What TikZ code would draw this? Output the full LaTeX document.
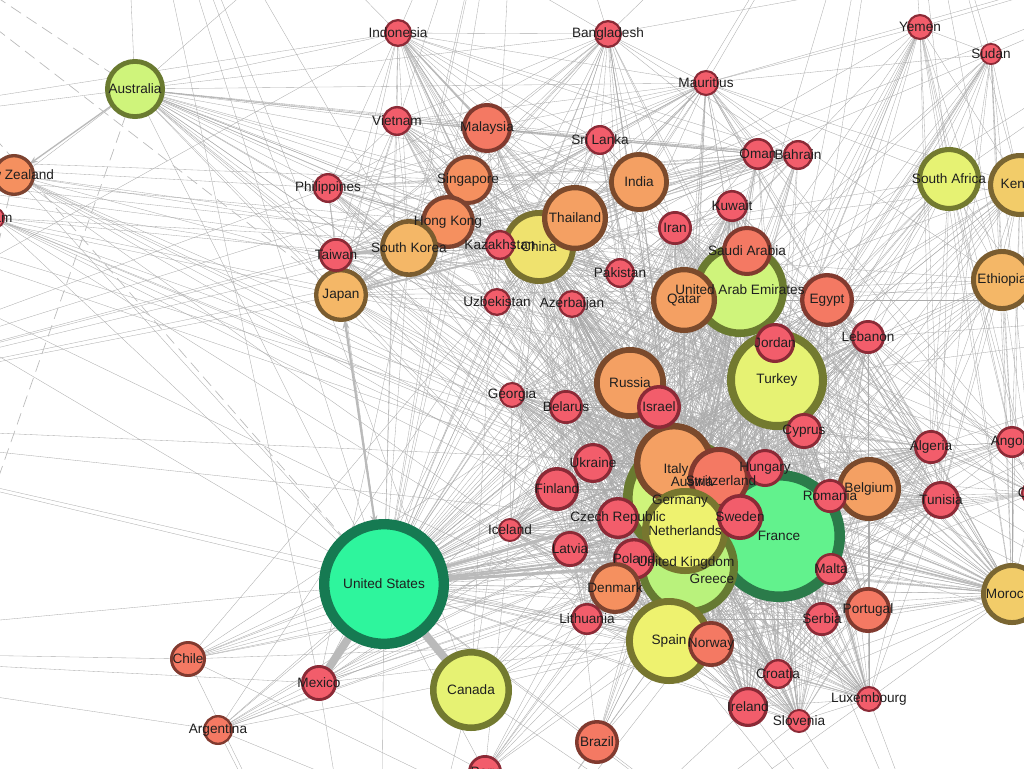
\documentclass[tikz,border=0pt]{standalone}
\usepackage{fontspec}
\setmainfont{Liberation Sans}
\usetikzlibrary{arrows.meta}

\pgfdeclarelayer{edges}
\pgfsetlayers{edges,main}

\definecolor{cRedF}{HTML}{F25D6B}\definecolor{cRedD}{HTML}{8B2A36}
\definecolor{cSalF}{HTML}{F47963}\definecolor{cSalD}{HTML}{813A2F}
\definecolor{cOraF}{HTML}{F4A063}\definecolor{cOraD}{HTML}{7B4A2C}
\definecolor{cOrsF}{HTML}{F5905F}\definecolor{cOrsD}{HTML}{7D4330}
\definecolor{cLorF}{HTML}{F4B767}\definecolor{cLorD}{HTML}{7A5C2F}
\definecolor{cGolF}{HTML}{F2CC69}\definecolor{cGolD}{HTML}{7A6632}
\definecolor{cYelF}{HTML}{EEF26F}\definecolor{cYelD}{HTML}{77762F}
\definecolor{cChnF}{HTML}{EFE26E}\definecolor{cChnD}{HTML}{787030}
\definecolor{cTurF}{HTML}{E6F273}\definecolor{cTurD}{HTML}{737A30}
\definecolor{cLgrF}{HTML}{CFF47B}\definecolor{cLgrD}{HTML}{6A7A30}
\definecolor{cGreF}{HTML}{B9F27C}\definecolor{cGreD}{HTML}{667A32}
\definecolor{cGrnF}{HTML}{62F28D}\definecolor{cGrnD}{HTML}{2B7B4A}
\definecolor{cTeaF}{HTML}{2EF59D}\definecolor{cTeaD}{HTML}{167A52}

\tikzset{
  country/.style={circle, inner sep=0pt, outer sep=0pt},
  lbl/.style={font=\fontsize{10.2}{12}\selectfont, text=black!88, inner sep=0pt},
  link/.style={draw=black!33, line width=0.25pt},
  tip/.style={-{Stealth[length=3.5pt,width=2.4pt]}},
  heavy/.style={draw=black!27, line cap=round},
  far/.style={draw=black!27, line width=0.5pt, dash pattern=on 9pt off 5pt},
}

% name/x/y/radius/colour, drawn from the bottom up
\newcommand\countrylist{
  us/384/584/65/cTea, fr/779/536/66/cGrn, de/680/501/38/cYel, uk/686/563/38/cYel,
  aut/683/498/60/cLgr, gr/688/566/50/cGre, ru/630/383/36/cOra, it/674/463/40/cOra,
  ch/719/478/31/cSal, hu/765/468/19/cRed, nl/685/531/43/cYel, se/740/517/23/cRed,
  cz/618/518/21/cRed, pl/634/559/21/cRed, dk/615/588/26/cOrs, es/669/641/43/cYel,
  nor/711/644/23/cSal, uae/740/290/47/cLgr, tr/777/380/50/cTur, sa/747/251/25/cSal,
  qa/684/300/33/cOra, jo/775/343/20/cRed, eg/827/300/27/cSal, cn/539/247/37/cChn,
  th/575/218/33/cOra, sg/468/180/25/cOrs, hk/448/222/27/cOrs, kr/409/248/29/cLor,
  jp/341/295/27/cLor, tw/336/255/17/cRed, kz/500/245/15/cRed, id/398/33/14/cRed,
  au/135/89/30/cLgr, nz/14/175/21/cOrs, gu/-6/218/11/cRed, vn/397/121/15/cRed,
  my/487/128/25/cSal, ph/328/188/15/cRed, uz/497/302/14/cRed, bd/608/34/14/cRed,
  mu/706/83/13/cRed, lk/600/140/15/cRed, ind/639/182/30/cOra, om/758/154/16/cRed,
  bh/798/155/15/cRed, ye/920/27/13/cRed, sd/991/54/11/cRed, za/949/179/32/cTur,
  ke/1020/185/32/cGol, kw/732/206/16/cRed, ir/675/228/17/cRed, pk/620/273/15/cRed,
  az/572/304/14/cRed, lb/868/337/17/cRed, et/1002/280/31/cLor, ge/512/395/13/cRed,
  by/566/407/17/cRed, il/659/407/22/cRed, cy/804/431/18/cRed, dz/931/447/17/cRed,
  ao/1012/442/16/cRed, ua/593/463/20/cRed, fi/557/489/22/cRed, be/869/489/32/cOra,
  ro/830/496/17/cRed, tn/941/500/19/cRed, td/1034/493/13/cRed, isl/510/530/12/cRed,
  lv/570/549/18/cRed, mt/831/569/16/cRed, ma/1012/594/31/cGol, lt/587/619/16/cRed,
  rs/822/619/17/cRed, pt/868/610/23/cSal, hr/778/674/15/cRed, lu/869/699/13/cRed,
  ie/748/707/20/cRed, si/799/721/12/cRed, br/597/742/22/cSal, cl/188/659/18/cSal,
  mx/319/683/18/cRed, ar/218/730/15/cSal, ca/471/690/41/cTur, pe/485/772/17/cRed}

\newcommand\labellist{
  us/United States, fr/France, nl/Netherlands, se/Sweden, hu/Hungary,
  ru/Russia, cz/Czech Republic, pl/Poland, dk/Denmark, es/Spain, nor/Norway,
  uae/United Arab Emirates, tr/Turkey, sa/Saudi Arabia, qa/Qatar, jo/Jordan,
  eg/Egypt, cn/China, th/Thailand, sg/Singapore, hk/Hong Kong, kr/South Korea,
  jp/Japan, tw/Taiwan, kz/Kazakhstan, id/Indonesia, au/Australia, nz/New Zealand,
  gu/Guam, vn/Vietnam, my/Malaysia, ph/Philippines, uz/Uzbekistan, bd/Bangladesh,
  mu/Mauritius, lk/Sri Lanka, ind/India, om/Oman, bh/Bahrain, ye/Yemen, sd/Sudan,
  za/South Africa, ke/Kenya, kw/Kuwait, ir/Iran, pk/Pakistan, az/Azerbaijan,
  lb/Lebanon, et/Ethiopia, ge/Georgia, by/Belarus, il/Israel, cy/Cyprus,
  dz/Algeria, ao/Angola, ua/Ukraine, fi/Finland, be/Belgium, ro/Romania,
  tn/Tunisia, td/Chad, isl/Iceland, lv/Latvia, mt/Malta, ma/Morocco,
  lt/Lithuania, rs/Serbia, pt/Portugal, hr/Croatia, lu/Luxembourg, ie/Ireland,
  si/Slovenia, br/Brazil, cl/Chile, mx/Mexico, ar/Argentina, ca/Canada, pe/Peru}

\newcommand\allc{us,fr,de,uk,aut,gr,ru,it,ch,hu,nl,se,cz,pl,dk,es,nor,uae,tr,sa,qa,jo,eg,cn,th,sg,hk,kr,jp,tw,kz,id,au,nz,gu,vn,my,ph,uz,bd,mu,lk,ind,om,bh,ye,sd,za,ke,kw,ir,pk,az,lb,et,ge,by,il,cy,dz,ao,ua,fi,be,ro,tn,td,isl,lv,mt,ma,lt,rs,pt,hr,lu,ie,si,br,cl,mx,ar,ca,pe}
\newcommand\eurc{aut,gr,ru,ch,hu,se,cz,pl,dk,nor,by,il,cy,ua,fi,ro,be,lv,mt,lt,rs,pt,hr,lu,ie,si,isl,ge,tn,dz,ma,eg,jo,lb,sa,qa,kw,ir,az}
\newcommand\asiac{cn,th,sg,hk,kr,tw,jp,kz,id,vn,my,ph,uz,bd,lk,ind,pk,mu,om,bh,au}
\newcommand\afric{za,ke,et,ye,sd,td,ao,ma,dz,tn,eg,mu}

\begin{document}
\begin{tikzpicture}[x=0.75pt,y=0.75pt,yscale=-1]
\useasboundingbox (0,0) rectangle (1024,768);

\foreach \nm/\px/\py/\rad/\cat in \countrylist {
  \node[country, fill=\cat F, draw=\cat D, minimum size=\rad*1.38pt, line width=\rad*0.12pt] (\nm) at (\px,\py) {};
}

\foreach \nm/\txt in \labellist {
  \node[lbl] (\nm-l) at (\nm.center) {\txt};
}
\foreach \nm/\px/\py/\txt in {aut/692/482/Austria, de/680/501/Germany, uk/686/563/United Kingdom, gr/712/579/Greece, it/676/470/Italy, ch/721/481/Switzerland} {
  \node[lbl] (\nm-l) at (\px,\py) {\txt};
}

\coordinate (offa) at (-300,-200);
\coordinate (offb) at (-350,150);
\coordinate (offc) at (-300,420);
\coordinate (offd) at (-150,900);
\coordinate (offe) at (120,-250);
\coordinate (offf) at (520,-250);
\coordinate (offg) at (900,-250);
\coordinate (offh) at (1350,-100);
\coordinate (offi) at (1380,300);
\coordinate (offj) at (1330,720);
\coordinate (offk) at (1000,1050);
\coordinate (offl) at (380,1050);
\coordinate (offm) at (-320,650);

\begin{pgfonlayer}{edges}
\fill[white] (0,0) rectangle (1024,768);
\begin{scope}
\clip (0,0) rectangle (1024,768);

\foreach \a in \allc {
  \foreach \b in {us,fr,de,uk} {
    \ifx\a\b\else \draw[link,tip] (\a) -- (\b); \fi
  }
}
\foreach \a in \allc {
  \foreach \b in {uae,tr,it,es,nl,cn} {
    \ifx\a\b\else \draw[link] (\a) -- (\b); \fi
  }
}
\foreach \a [count=\i] in \eurc {
  \foreach \b [count=\j] in \eurc {
    \ifnum\j>\i \draw[link] (\a) -- (\b); \fi
  }
}
\foreach \a [count=\i] in \asiac {
  \foreach \b [count=\j] in \asiac {
    \ifnum\j>\i \draw[link] (\a) -- (\b); \fi
  }
}
\foreach \a [count=\i] in \afric {
  \foreach \b [count=\j] in \afric {
    \ifnum\j>\i \draw[link] (\a) -- (\b); \fi
  }
}
\foreach \a in {offb,offc} {
  \foreach \b in {au,nz,jp,us,kr,cn,sg,tw,ph,id,gu,hk,fr,it,es} { \draw[link] (\a) -- (\b); }
}
\foreach \a in {offe,offf} {
  \foreach \b in {us,jp,kr,ca,mx,au,id,bd} { \draw[link] (\a) -- (\b); }
}
\foreach \a in {offg,offh} {
  \foreach \b in {ye,sd,za,ke,et,uae,tr,ind,fr,mu,bd} { \draw[link] (\a) -- (\b); }
}
\foreach \a in {offi,offj} {
  \foreach \b in {ke,et,ma,ao,td,za,fr,be,tn,dz,tr,uae,lb,eg} { \draw[link] (\a) -- (\b); }
}
\foreach \a in {offk,offl} {
  \foreach \b in {br,ca,mx,es,fr,us,ar,cl,ie,lu,si,pe} { \draw[link] (\a) -- (\b); }
}
\foreach \b in {us,cl,ar,mx} { \draw[link] (offm) -- (\b); }
\foreach \b in {us,nz,au,jp} { \draw[far] (offa) -- (\b); }
\draw[far] (offd) -- (nz);
\draw[far] (offd) -- (au);

\draw[heavy, line width=6pt] (us) -- (ca);
\draw[heavy, line width=6pt] (us) -- (mx);
\draw[heavy, line width=1.6pt, {Stealth[length=7pt]}-{Stealth[length=7pt]}] (us) -- (jp);
\draw[heavy, line width=2.2pt, -{Stealth[length=6pt]}] (de) -- (us);
\draw[heavy, line width=2.2pt, -{Stealth[length=6pt]}] (uk) -- (us);
\draw[heavy, line width=1.8pt, -{Stealth[length=6pt]}] (pl) -- (us);
\draw[heavy, line width=1.4pt, -{Stealth[length=6pt]}] (fr) -- (us);
\draw[heavy, line width=1pt, -{Stealth[length=6pt]}] (au) -- (nz);
\draw[heavy, line width=1.4pt, -{Stealth[length=6pt]}] (cn) -- (jp);
\draw[heavy, line width=1.4pt, -{Stealth[length=6pt]}] (kr) -- (jp);
\draw[heavy, line width=2.4pt] (tw) -- (kr);
\draw[heavy, line width=1.6pt] (kr) -- (kz);
\draw[heavy, line width=1pt] (id) -- (my);
\draw[heavy, line width=1pt] (id) -- (sg);
\draw[heavy, line width=1.4pt] (fr) -- (tr);
\draw[heavy, line width=1.2pt] (ma) -- (fr);
\end{scope}
\end{pgfonlayer}
\end{tikzpicture}
\end{document}
